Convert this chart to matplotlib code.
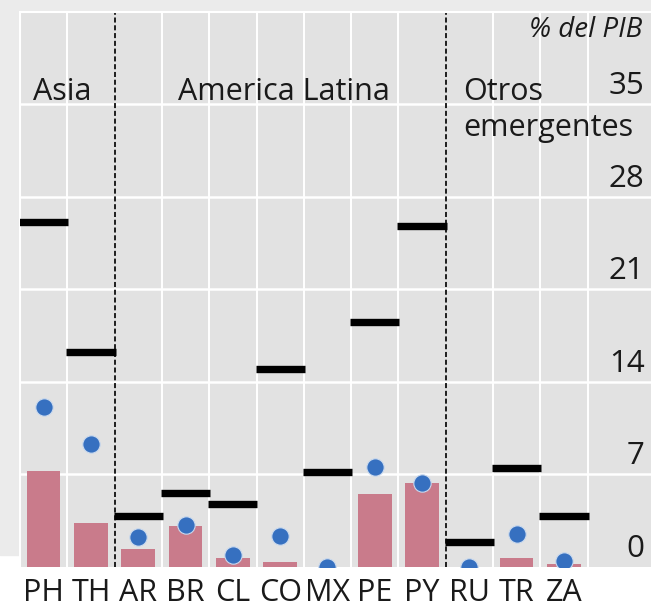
import matplotlib.pyplot as plt
from matplotlib.patches import Rectangle
from matplotlib.transforms import blended_transform_factory

plt.rcParams["font.family"] = ["Open Sans", "DejaVu Sans"]

countries = ["PH", "TH", "AR", "BR", "CL", "CO", "MX", "PE", "PY", "RU", "TR", "ZA"]
bar_values = [7.26, 3.28, 1.34, 3.10, 0.63, 0.38, 0.0, 5.47, 6.30, 0.0, 0.63, 0.20]
dot_values = [12.09, 9.25, 2.22, 3.15, 0.88, 2.34, 0.0, 7.51, 6.35, 0.0, 2.45, 0.45]
line_values = [26.08, 16.23, 3.83, 5.55, 4.74, 14.94, 7.13, 18.52, 25.75, 1.84, 7.44, 3.83]
group_names = ["Asia", "America Latina", "Otros\nemergentes"]
group_edges = [1.5, 8.5]
y_ticks = [0, 7, 14, 21, 28, 35]

BAR_COLOR = "#c97b8b"
DOT_COLOR = "#3670c0"
PANEL_COLOR = "#e2e2e2"
OUTER_COLOR = "#ebebeb"

fig = plt.figure(figsize=(6.51, 6.10), dpi=100, facecolor="white")
fig.patches.append(Rectangle((0, 55 / 610), 1, 1, transform=fig.transFigure,
                             color=OUTER_COLOR, zorder=-10))

ax = fig.add_axes([20 / 651, 1 - 566.7 / 610, 631 / 651, 555 / 610])
ax.set_facecolor(PANEL_COLOR)
x = list(range(len(countries)))
ax.set_xlim(-0.5, 12.84)
ax.set_ylim(0, 42)

# grid: white lines between countries, dashed between groups
for i in range(len(countries)):
    xb = i + 0.5
    if xb in group_edges:
        ax.axvline(xb, color="#1e1e1e", lw=1.4, linestyle=(0, (2.6, 1.4)), zorder=2)
    else:
        ax.axvline(xb, color="white", lw=1.4, zorder=1)
for t in y_ticks[1:]:
    ax.axhline(t, color="white", lw=1.8, zorder=1)

ax.bar(x, bar_values, width=0.71, color=BAR_COLOR, zorder=3)
ax.hlines(line_values, [i - 0.52 for i in x], [i + 0.52 for i in x],
          color="black", lw=5.3, zorder=4, capstyle="butt")
ax.plot(x, dot_values, "o", color=DOT_COLOR, markersize=12.5,
        markeredgecolor="#c9d9ee", markeredgewidth=0.8, zorder=5)

# y labels sit inside the panel, just above each gridline
yt = blended_transform_factory(ax.transAxes, ax.transData)
for t in y_ticks:
    ax.text(0.990, t + 0.76, str(t), transform=yt, ha="right", va="baseline",
            fontsize=22.5, color="#1a1a1a")
ax.text(0.986, 40.1, "% del PIB", transform=yt, ha="right", va="baseline",
        fontsize=20, style="italic", color="#1a1a1a")

# group labels, one text per line; baselines step down by the line gap
label_pos = [(-0.22, 35.33), (2.85, 35.33), (8.87, 35.33)]
line_gap = 2.7
for name, (lx, ly) in zip(group_names, label_pos):
    for k, part in enumerate(name.split("\n")):
        ax.text(lx, ly - k * line_gap, part, ha="left", va="baseline",
                fontsize=22, color="#1a1a1a")

ax.set_xticks(x)
ax.set_xticklabels(countries, fontsize=22, color="#1a1a1a")
ax.tick_params(axis="x", length=0, pad=8)
ax.set_yticks([])
for side in ["right", "bottom"]:
    ax.spines[side].set_visible(False)
for side in ["left", "top"]:
    ax.spines[side].set_color("white")
    ax.spines[side].set_linewidth(1.5)

fig.savefig("out.png", dpi=100, facecolor=fig.get_facecolor())
